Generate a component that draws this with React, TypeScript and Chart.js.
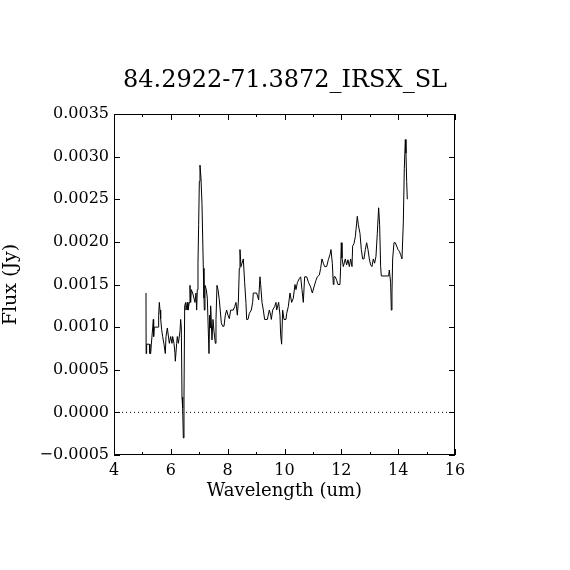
import React, { useEffect, useRef } from "react";
import { Chart, registerables } from "chart.js";

Chart.register(...registerables);

const titleText = "84.2922-71.3872_IRSX_SL";
const xTitle = "Wavelength (um)";
const yTitle = "Flux (Jy)";

const xTicks = [4, 6, 8, 10, 12, 14, 16];
const xMinorTicks = [5, 7, 9, 11, 13, 15];
const yTicks = [-0.0005, 0, 0.0005, 0.001, 0.0015, 0.002, 0.0025, 0.003, 0.0035];
const zeroLevel = 0;

const wavelength = [
  5.126, 5.130, 5.149, 5.243, 5.265, 5.290, 5.314, 5.361, 5.384, 5.395,
  5.419, 5.560, 5.572, 5.595, 5.619, 5.642, 5.677, 5.712, 5.759, 5.806,
  5.830, 5.877, 5.947, 5.994, 6.041, 6.064, 6.111, 6.146, 6.158, 6.205,
  6.228, 6.264, 6.322, 6.346, 6.369, 6.393, 6.416, 6.440, 6.463, 6.487,
  6.522, 6.534, 6.580, 6.604, 6.651, 6.674, 6.698, 6.721, 6.768, 6.850,
  6.885, 6.909, 6.932, 6.956, 6.979, 7.003, 7.026, 7.061, 7.096, 7.143,
  7.167, 7.179, 7.202, 7.249, 7.284, 7.343, 7.366, 7.390, 7.401, 7.448,
  7.483, 7.519, 7.566, 7.589, 7.624, 7.660, 7.706, 7.777, 7.824, 7.871,
  7.917, 7.964, 8.011, 8.058, 8.105, 8.199, 8.246, 8.293, 8.340, 8.375,
  8.410, 8.434, 8.469, 8.504, 8.551, 8.598, 8.645, 8.668, 8.715, 8.762,
  8.832, 8.879, 8.903, 9.020, 9.090, 9.137, 9.161, 9.208, 9.255, 9.301,
  9.395, 9.466, 9.513, 9.536, 9.583, 9.653, 9.700, 9.724, 9.794, 9.841,
  9.864, 9.899, 9.935, 9.982, 10.052, 10.076, 10.134, 10.193, 10.252, 10.310,
  10.369, 10.404, 10.451, 10.521, 10.568, 10.615, 10.662, 10.709, 10.780, 10.850,
  10.920, 10.979, 11.037, 11.108, 11.155, 11.225, 11.272, 11.319, 11.366, 11.413,
  11.483, 11.542, 11.600, 11.636, 11.683, 11.718, 11.741, 11.788, 11.835, 11.882,
  11.952, 11.976, 11.999, 12.023, 12.070, 12.140, 12.187, 12.234, 12.281, 12.328,
  12.375, 12.398, 12.445, 12.492, 12.539, 12.562, 12.598, 12.656, 12.703, 12.750,
  12.797, 12.844, 12.891, 12.938, 12.985, 13.031, 13.078, 13.125, 13.172, 13.219,
  13.266, 13.313, 13.348, 13.383, 13.407, 13.665, 13.688, 13.735, 13.759, 13.782,
  13.806, 13.853, 13.900, 13.947, 13.994, 14.041, 14.087, 14.134, 14.181, 14.216,
  14.252, 14.275, 14.299, 14.322,
];

const flux = [
  0.00140, 0.00069, 0.00080, 0.00080, 0.00069, 0.00069, 0.00080, 0.00099, 0.00109, 0.00089,
  0.00100, 0.00100, 0.00114, 0.00129, 0.00120, 0.00110, 0.00097, 0.00089, 0.00080, 0.00069,
  0.00089, 0.00099, 0.00081, 0.00089, 0.00081, 0.00089, 0.00081, 0.00069, 0.00060, 0.00081,
  0.00089, 0.00081, 0.00095, 0.00109, 0.00099, 0.00018, 0.00005, -0.00030, 0.00018, 0.00125,
  0.00129, 0.00120, 0.00129, 0.00120, 0.00129, 0.00149, 0.00129, 0.00144, 0.00140, 0.00129,
  0.00140, 0.00120, 0.00144, 0.00175, 0.00220, 0.00271, 0.00290, 0.00275, 0.00245, 0.00169,
  0.00134, 0.00120, 0.00149, 0.00144, 0.00134, 0.00069, 0.00114, 0.00099, 0.00125, 0.00085,
  0.00109, 0.00095, 0.00081, 0.00109, 0.00149, 0.00144, 0.00132, 0.00105, 0.00101, 0.00101,
  0.00114, 0.00120, 0.00114, 0.00110, 0.00120, 0.00120, 0.00124, 0.00129, 0.00114, 0.00129,
  0.00169, 0.00191, 0.00171, 0.00175, 0.00180, 0.00152, 0.00128, 0.00109, 0.00109, 0.00116,
  0.00120, 0.00129, 0.00140, 0.00140, 0.00132, 0.00159, 0.00150, 0.00129, 0.00120, 0.00109,
  0.00109, 0.00120, 0.00114, 0.00109, 0.00120, 0.00124, 0.00129, 0.00120, 0.00129, 0.00114,
  0.00091, 0.00080, 0.00120, 0.00109, 0.00109, 0.00116, 0.00124, 0.00140, 0.00129, 0.00134,
  0.00150, 0.00144, 0.00152, 0.00157, 0.00159, 0.00144, 0.00129, 0.00159, 0.00159, 0.00152,
  0.00147, 0.00140, 0.00147, 0.00155, 0.00159, 0.00161, 0.00169, 0.00180, 0.00175, 0.00171,
  0.00171, 0.00179, 0.00185, 0.00191, 0.00175, 0.00150, 0.00159, 0.00159, 0.00155, 0.00150,
  0.00150, 0.00171, 0.00199, 0.00181, 0.00171, 0.00180, 0.00173, 0.00179, 0.00171, 0.00180,
  0.00171, 0.00195, 0.00198, 0.00206, 0.00222, 0.00230, 0.00220, 0.00210, 0.00191, 0.00180,
  0.00180, 0.00191, 0.00199, 0.00191, 0.00180, 0.00173, 0.00171, 0.00180, 0.00175, 0.00183,
  0.00210, 0.00240, 0.00220, 0.00171, 0.00160, 0.00160, 0.00167, 0.00152, 0.00120, 0.00140,
  0.00180, 0.00199, 0.00199, 0.00195, 0.00191, 0.00189, 0.00185, 0.00180, 0.00222, 0.00286,
  0.00320, 0.00304, 0.00271, 0.00250,
];

const FONT = "'DejaVu Serif', 'Liberation Serif', serif";

const framePlugin = {
  id: "idlFrame",
  afterDatasetsDraw(chart: any) {
    const { ctx, chartArea, scales } = chart;
    const { left, right, top, bottom } = chartArea;
    const xs = scales.x;
    const ys = scales.y;
    ctx.save();
    ctx.strokeStyle = "#000";
    ctx.lineWidth = 1;
    ctx.setLineDash([]);
    ctx.strokeRect(left + 0.5, top + 0.5, right - left - 1, bottom - top - 1);
    const major = 6;
    const minor = 3;
    ctx.beginPath();
    const xTick = (v: number, len: number) => {
      const px = Math.round(xs.getPixelForValue(v)) + 0.5;
      ctx.moveTo(px, bottom);
      ctx.lineTo(px, bottom - len);
      ctx.moveTo(px, top);
      ctx.lineTo(px, top + len);
    };
    xTicks.forEach((v) => xTick(v, major));
    xMinorTicks.forEach((v) => xTick(v, minor));
    yTicks.forEach((v) => {
      const py = Math.round(ys.getPixelForValue(v)) + 0.5;
      ctx.moveTo(left, py);
      ctx.lineTo(left + major, py);
      ctx.moveTo(right, py);
      ctx.lineTo(right - major, py);
    });
    ctx.stroke();
    ctx.restore();
  },
};

export default function App() {
  const ref = useRef<HTMLCanvasElement | null>(null);
  useEffect(() => {
    if (!ref.current) return;
    const spectrum = wavelength.map((x, i) => ({ x, y: flux[i] }));
    const zeroLine = [
      { x: xTicks[0], y: zeroLevel },
      { x: xTicks[xTicks.length - 1], y: zeroLevel },
    ];
    const chart = new Chart(ref.current, {
      type: "line",
      data: {
        datasets: [
          {
            data: zeroLine,
            borderColor: "#000",
            borderWidth: 1,
            borderDash: [1, 3],
            pointRadius: 0,
          },
          {
            data: spectrum,
            borderColor: "#000",
            borderWidth: 1,
            pointRadius: 0,
            tension: 0,
          },
        ],
      },
      options: {
        responsive: false,
        animation: false,
        devicePixelRatio: 1,
        layout: { padding: 0 },
        plugins: {
          legend: { display: false },
          tooltip: { enabled: false },
          title: {
            display: true,
            text: titleText,
            color: "#000",
            font: { family: FONT, size: 24, weight: "normal" },
            padding: { top: 66.6, bottom: 18.6 },
          },
        },
        scales: {
          x: {
            type: "linear",
            min: 4,
            max: 16,
            afterFit: (s: any) => {
              s.height = 115;
            },
            afterBuildTicks: (s: any) => {
              s.ticks = xTicks.map((v) => ({ value: v }));
            },
            grid: { display: false, drawTicks: false },
            border: { display: false },
            ticks: {
              color: "#000",
              padding: 6.4,
              maxRotation: 0,
              font: { family: FONT, size: 16 },
              callback: (v: any) => String(v),
            },
            title: {
              display: true,
              text: xTitle,
              color: "#000",
              font: { family: FONT, size: 18 },
              padding: { top: 0, bottom: 68.2 },
            },
          },
          y: {
            type: "linear",
            position: "left",
            min: -0.0005,
            max: 0.0035,
            afterFit: (s: any) => {
              s.width = 114;
            },
            afterBuildTicks: (s: any) => {
              s.ticks = yTicks.map((v) => ({ value: v }));
            },
            grid: { display: false, drawTicks: false },
            border: { display: false },
            ticks: {
              color: "#000",
              padding: 5,
              font: { family: FONT, size: 16 },
              callback: (v: any) => {
                const n = Number(v);
                const s = Math.abs(n).toFixed(4);
                return n < -1e-9 ? "\u2212" + s : s;
              },
            },
            title: {
              display: true,
              text: yTitle,
              color: "#000",
              font: { family: FONT, size: 19 },
              padding: { top: 0, bottom: 0 },
            },
          },
          yRight: {
            type: "linear",
            position: "right",
            min: -0.0005,
            max: 0.0035,
            afterFit: (s: any) => {
              s.width = 115;
            },
            grid: { display: false, drawTicks: false },
            border: { display: false },
            ticks: { display: false },
          },
        },
      },
      plugins: [framePlugin],
    });
    return () => chart.destroy();
  }, []);
  return (
    <div style={{ position: "absolute", left: 0, top: 0, width: 570, height: 570, background: "#fff" }}>
      <canvas ref={ref} width={570} height={570} />
    </div>
  );
}
